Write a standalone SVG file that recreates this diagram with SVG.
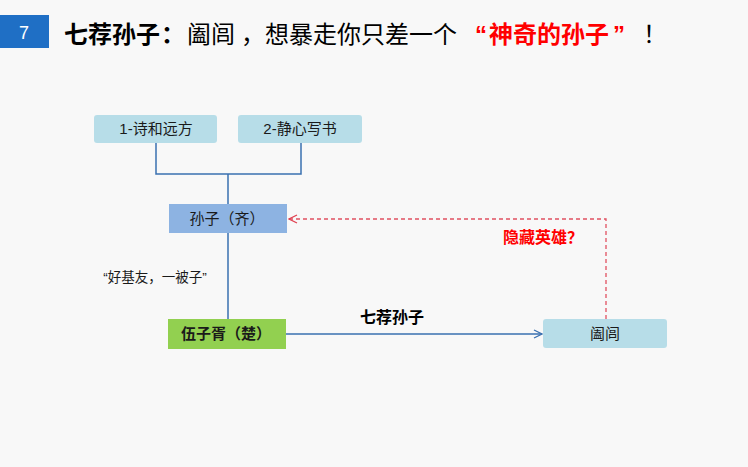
<svg xmlns="http://www.w3.org/2000/svg" width="748" height="467" viewBox="0 0 748 467">
<defs>
<style>
text{font-family:"Liberation Sans","Noto Sans CJK SC",sans-serif;}
.node text{font-size:15px;fill:#1a1a1a;text-anchor:middle;}
.line{fill:none;stroke:#3a70b0;stroke-width:1.5;}
.dash{fill:none;stroke:#e05060;stroke-width:1.3;stroke-dasharray:4 3;}
</style>
<marker id="arrBlue" viewBox="0 0 10 10" refX="9" refY="5" markerWidth="10" markerHeight="10" markerUnits="userSpaceOnUse" orient="auto">
<path d="M1,1 L9,5 L1,9" fill="none" stroke="#3a70b0" stroke-width="1.3"/>
</marker>
<marker id="arrRed" viewBox="0 0 10 10" refX="9" refY="5" markerWidth="10" markerHeight="10" markerUnits="userSpaceOnUse" orient="auto">
<path d="M1,1 L9,5 L1,9" fill="none" stroke="#e04050" stroke-width="1.3"/>
</marker>
</defs>
<rect width="748" height="467" fill="#f8f8f8"/>
<g id="header">
<rect x="0" y="15" width="49" height="33" fill="#1f6fc5"/>
<text x="24" y="39" font-size="18" fill="#ffffff" text-anchor="middle">7</text>
<text y="43" font-size="24" fill="#000"><tspan x="64" font-weight="bold">七荐孙子</tspan><tspan x="161" font-weight="bold">：</tspan><tspan x="187">阖闾</tspan><tspan x="241">，</tspan><tspan x="265">想暴走你只差一个</tspan><tspan x="475" font-weight="bold" fill="#ff0000">“</tspan><tspan x="489" font-weight="bold" fill="#ff0000">神奇的孙子</tspan><tspan x="613" font-weight="bold" fill="#ff0000">”</tspan><tspan x="643">！</tspan></text>
</g>
<g id="connectors">
<path class="line" d="M156,143 V174 H301 V143 M228,174 V204 M228,232 V319"/>
<path class="line" d="M286,334 H542" marker-end="url(#arrBlue)"/>
<path class="dash" d="M606,319 V219 H289" marker-end="url(#arrRed)"/>
<text x="392" y="323" font-size="16" font-weight="bold" text-anchor="middle" fill="#000">七荐孙子</text>
<text x="543" y="243" font-size="16" font-weight="bold" text-anchor="middle" fill="#ff0000">隐藏英雄？</text>
<text x="155" y="282" font-size="13.5" text-anchor="middle" fill="#1a1a1a">“好基友，一被子”</text>
</g>
<g id="node-shihe" class="node">
<rect x="94" y="115" width="123" height="28" rx="3" fill="#b7dde8"/>
<text x="156" y="134">1-诗和远方</text>
</g>
<g id="node-jingxin" class="node">
<rect x="238" y="115" width="124" height="28" rx="3" fill="#b7dde8"/>
<text x="300" y="134">2-静心写书</text>
</g>
<g id="node-sunzi" class="node">
<rect x="169" y="204" width="118" height="29" fill="#8db3e2"/>
<text x="227" y="224">孙子（齐）</text>
</g>
<g id="node-wuzixu" class="node">
<rect x="168" y="319" width="118" height="30" fill="#92d050"/>
<text x="226" y="339" font-weight="bold">伍子胥（楚）</text>
</g>
<g id="node-helu" class="node">
<rect x="543" y="319" width="124" height="29" rx="3" fill="#b7dde8"/>
<text x="605" y="339">阖闾</text>
</g>
</svg>
